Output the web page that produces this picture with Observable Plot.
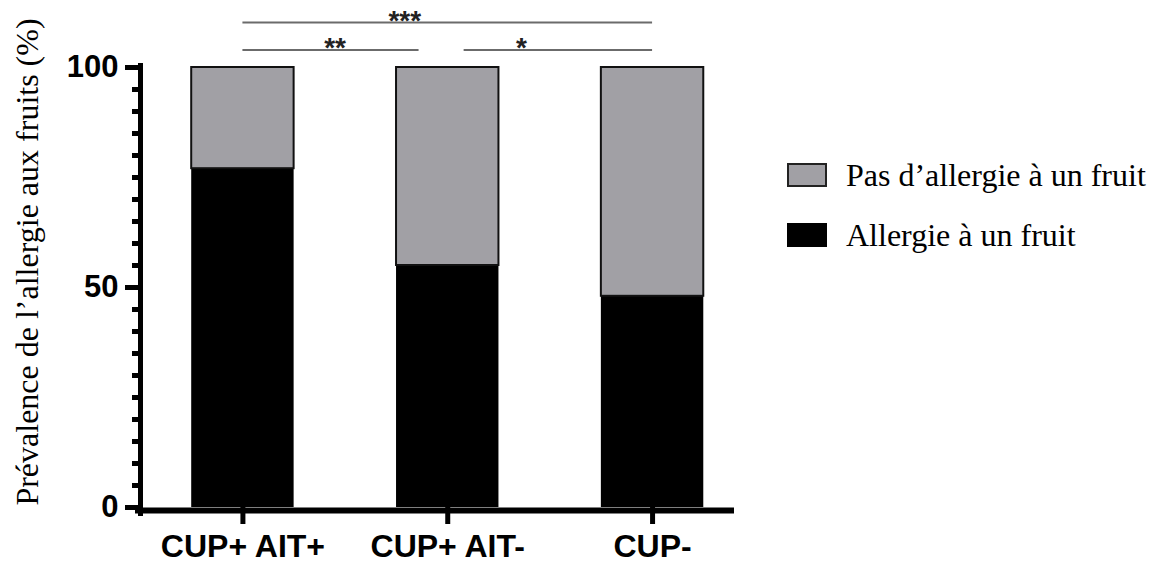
<!DOCTYPE html>
<html><head><meta charset="utf-8">
<script src="https://cdn.jsdelivr.net/npm/d3@7"></script>
<script src="https://cdn.jsdelivr.net/npm/@observablehq/plot@0.6"></script>
<style>
body{margin:0;background:#fff;}
#wrap{position:relative;width:1157px;height:567px;overflow:hidden;}
#chart{position:absolute;left:0;top:0;}
#ytitle{position:absolute;left:27px;top:262px;transform:translate(-50%,-50%) rotate(-90deg);white-space:nowrap;font-family:"Liberation Serif","Times New Roman",serif;font-size:32px;line-height:1;color:#000;}
.leg{position:absolute;left:787px;display:flex;align-items:center;font-family:"Liberation Serif","Times New Roman",serif;font-size:32px;color:#000;white-space:nowrap;}
.sw{width:40px;height:24px;box-sizing:border-box;margin-right:19px;}
</style></head><body>
<div id="wrap"><div id="chart"></div><div id="ytitle"></div><div id="legend"></div></div>
<script>
const groups = ["CUP+ AIT+", "CUP+ AIT-", "CUP-"];
const allergy = [77, 55, 48];
const noAllergy = [23, 45, 52];
const seriesNames = ["Allergie à un fruit", "Pas d’allergie à un fruit"];
const seriesColors = ["#000000", "#a1a0a5"];
const majorTicks = [0, 50, 100];
const minorTicks = [0, 5, 10, 15, 20, 25, 30, 35, 40, 45, 50, 55, 60, 65, 70, 75, 80, 85, 90, 95, 100];
const yTitle = "Prévalence de l’allergie aux fruits (%)";
// significance comparisons
const compFrom = [0, 0, 1.08];
const compTo = [0.86, 2, 2];
const compLevel = [104, 110.2, 104];
const compStarX = [0.45, 0.79, 1.36];
const compLabel = ["**", "***", "*"];

const bars = [];
groups.forEach((g, i) => {
  bars.push({i, series: seriesNames[0], y1: 0, y2: allergy[i]});
  bars.push({i, series: seriesNames[1], y1: allergy[i], y2: allergy[i] + noAllergy[i]});
});
const comps = compLabel.map((l, k) => ({from: compFrom[k], to: compTo[k], level: compLevel[k], sx: compStarX[k], label: l}));

const plot = Plot.plot({
  width: 760,
  height: 567,
  marginLeft: 140,
  marginRight: 26,
  marginTop: 67,
  marginBottom: 60,
  style: {fontFamily: "'Liberation Sans', Arial, sans-serif", fontSize: "30px", fontWeight: "bold", color: "#000", background: "transparent", overflow: "visible"},
  x: {domain: [-0.5, 2.4]},
  y: {domain: [0, 100]},
  marks: [
    Plot.rectY(bars.filter(d => d.series === seriesNames[0]), {x1: d => d.i - 0.25, x2: d => d.i + 0.25, y1: "y1", y2: "y2", fill: seriesColors[0]}),
    Plot.rectY(bars.filter(d => d.series === seriesNames[1]), {x1: d => d.i - 0.25, x2: d => d.i + 0.25, y1: "y1", y2: "y2", fill: seriesColors[1], stroke: "#111", strokeWidth: 2}),
    Plot.axisY({ticks: minorTicks, tickSize: 8, text: null, strokeWidth: 5, label: null}),
    Plot.axisY({ticks: majorTicks, tickSize: 15, tickPadding: 7, strokeWidth: 5, label: null, fontSize: 31, fontWeight: "bold"}),
    Plot.axisX({ticks: [0, 1, 2], tickFormat: i => groups[i], tickSize: 17, tickPadding: 10, strokeWidth: 5, label: null, fontSize: 32, fontWeight: "bold"}),
    Plot.frame({anchor: "left", strokeWidth: 5, stroke: "#000", insetTop: -2, insetBottom: -6}),
    Plot.ruleY([0], {strokeWidth: 6, stroke: "#000", dy: 3, insetLeft: -5}),
    Plot.ruleY(comps, {y: "level", x1: "from", x2: "to", stroke: "#6b6b6b", strokeWidth: 2}),
    Plot.text(comps, {x: "sx", y: "level", text: "label", lineAnchor: "middle", dy: -2, fontSize: 28, fontWeight: "bold", fill: "#222"})
  ]
});
document.getElementById("chart").appendChild(plot);
document.getElementById("ytitle").textContent = yTitle;

const legend = document.getElementById("legend");
const legItems = [
  {name: seriesNames[1], color: seriesColors[1], top: 163, border: "2px solid #222"},
  {name: seriesNames[0], color: seriesColors[0], top: 223, border: "none"}
];
legItems.forEach(it => {
  const row = document.createElement("div");
  row.className = "leg";
  row.style.top = (it.top - 6) + "px";
  row.style.height = "36px";
  const sw = document.createElement("div");
  sw.className = "sw";
  sw.style.background = it.color;
  sw.style.border = it.border;
  const tx = document.createElement("span");
  tx.textContent = it.name;
  row.appendChild(sw);
  row.appendChild(tx);
  legend.appendChild(row);
});
</script>
</body></html>
